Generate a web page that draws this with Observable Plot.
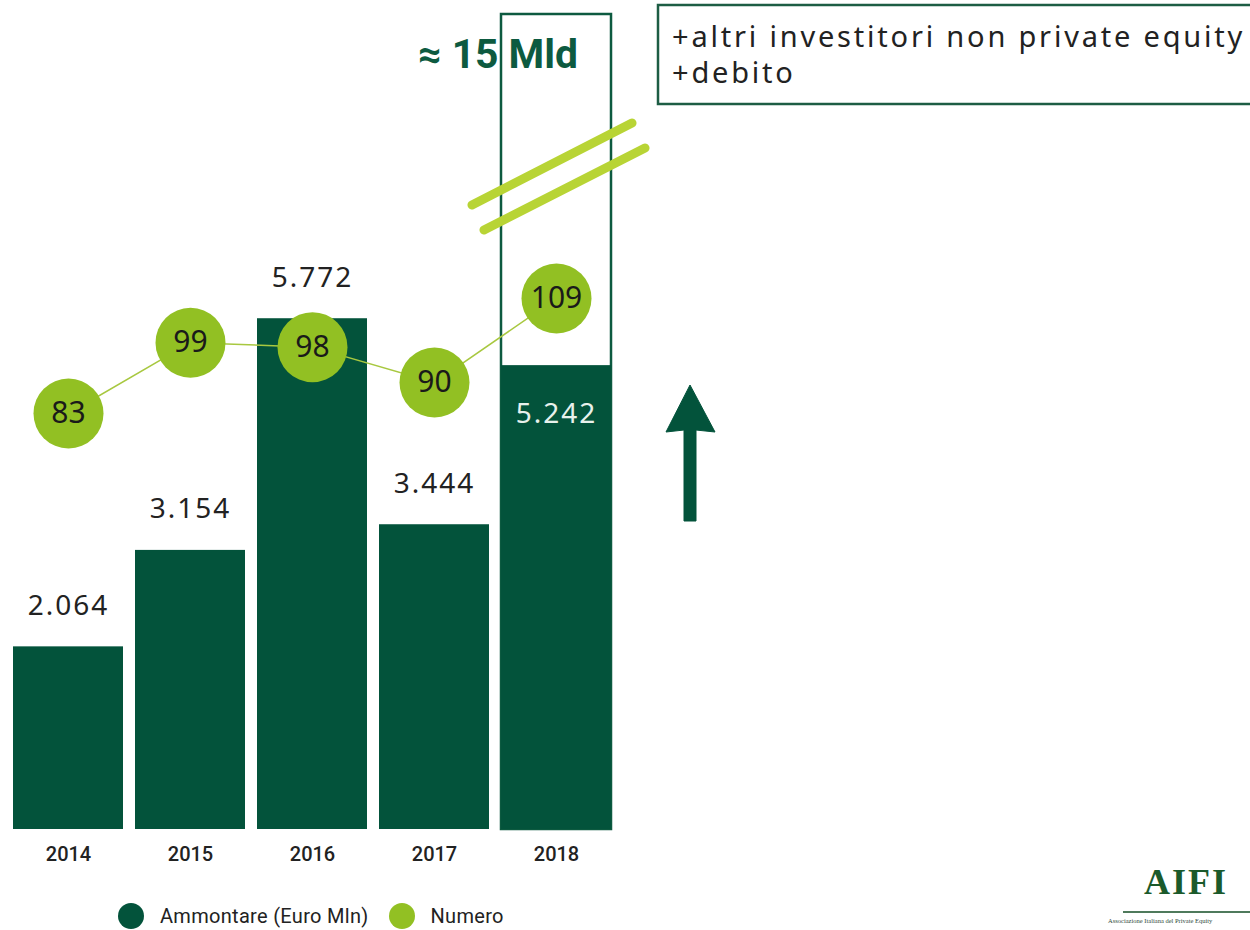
<!DOCTYPE html>
<html>
<head>
<meta charset="utf-8">
<script src="https://cdn.jsdelivr.net/npm/d3@7"></script>
<script src="https://cdn.jsdelivr.net/npm/@observablehq/plot@0.6"></script>
<style>
  html, body { margin:0; padding:0; background:#fff; }
  body { width:1250px; height:930px; overflow:hidden; position:relative; font-family: Roboto, "Noto Sans", sans-serif; }
  #chart { position:absolute; left:0; top:0; }
  #legend { position:absolute; left:118px; top:903px; height:26px; display:flex; align-items:center; font-family:Roboto, sans-serif; font-size:20px; letter-spacing:0.3px; color:#222; }
  #legend .sw { width:26px; height:26px; border-radius:50%; display:inline-block; }
  #legend .lab { margin-left:16px; margin-right:20px; }
  #logo { position:absolute; left:1100px; top:862px; width:160px; }
  #logo .big { position:absolute; left:0; width:172px; text-align:center; top:0; font-family:"Liberation Serif", serif; font-weight:700; font-size:36px; line-height:40px; letter-spacing:2px; color:#1b5a2b; }
  #logo .rule { position:absolute; left:23px; top:49px; width:140px; height:2px; background:#4f7a5c; }
  #logo .small { position:absolute; left:8px; top:55px; font-family:"Liberation Serif", serif; font-size:6.5px; white-space:nowrap; color:#2f4a3a; }
</style>
</head>
<body>
<div id="chart"></div>
<div id="legend"></div>
<div id="logo"><div class="big">AIFI</div><div class="rule"></div><div class="small">Associazione Italiana del Private Equity</div></div>
<script>
// ---- data ----
const years = ["2014", "2015", "2016", "2017", "2018"];
const ammontare = [2064, 3154, 5772, 3444, 5242];   // Euro Mln
const numero = [83, 99, 98, 90, 109];
const seriesNames = ["Ammontare (Euro Mln)", "Numero"];
const breakLabel = "≈ 15 Mld";
const noteLines = ["+altri investitori non private equity", "+debito"];
const breakTop = 9210; // top of broken-axis box for 2018 (≈ 15 Mld)

const colBar = "#03533b";
const colDot = "#92c023";
const colLine = "#a8c840";

const data = years.map((y, i) => ({year: y, amount: ammontare[i], n: numero[i]}));
// secondary axis for Numero mapped onto the same vertical scale
const numToY = n => 551 + 50 * n;

const itFmt = d3.formatLocale({decimal: ",", thousands: ".", grouping: [3], currency: ["€", ""]}).format(",");

const last = data.filter(d => d.year === "2018");
const others = data.filter(d => d.year !== "2018");

const plot = Plot.plot({
  width: 1250,
  height: 896,
  marginTop: 14,
  marginBottom: 67,
  marginLeft: 7,
  marginRight: 633,
  x: {domain: years, paddingInner: 0.1, paddingOuter: 0.05},
  y: {domain: [0, breakTop], axis: null},
  style: {fontFamily: "Roboto, 'Noto Sans', sans-serif", background: "#fff"},
  marks: [
    Plot.barY(last, {x: "year", y1: 0, y2: () => breakTop, fill: "none", stroke: "#0d5a40", strokeWidth: 2.5}),
    Plot.barY(data, {x: "year", y: "amount", fill: colBar}),
    Plot.text(others, {x: "year", y: "amount", text: d => itFmt(d.amount), dy: -41, fontSize: 28, fill: "#222", fontFamily: "'Noto Sans', sans-serif"}),
    Plot.text(last, {x: "year", y: "amount", text: d => itFmt(d.amount), dy: 48, fontSize: 28, fill: "#e8f1ec", fontFamily: "'Noto Sans', sans-serif"}),
    Plot.line(data, {x: "year", y: d => numToY(d.n), stroke: colLine, strokeWidth: 1.5}),
    Plot.dot(data, {x: "year", y: d => numToY(d.n), r: 35, fill: colDot}),
    Plot.text(data, {x: "year", y: d => numToY(d.n), text: d => String(d.n), fontSize: 30, fill: "#1a1a1a", fontFamily: "'Noto Sans', sans-serif"}),
    Plot.axisX({tickSize: 0, tickPadding: 17, fontSize: 20, fontWeight: 500, fill: "#222", label: null})
  ]
});

document.getElementById("chart").appendChild(plot);

// letter spacing on value labels
d3.select(plot).selectAll("text").filter(function() { return /\d\.\d/.test(this.textContent); }).style("letter-spacing", "2px");

// ---- annotations ----
const svg = d3.select(plot);
const ann = svg.append("g").attr("text-anchor", "start");

// broken-axis marks
[[472, 205, 632, 123], [484, 230, 645, 148]].forEach(([x1, y1, x2, y2]) => {
  ann.append("line").attr("x1", x1).attr("y1", y1).attr("x2", x2).attr("y2", y2)
    .attr("stroke", "#b8d435").attr("stroke-width", 9).attr("stroke-linecap", "round");
});

// ≈ 15 Mld
ann.append("text").attr("x", 418).attr("y", 57).attr("text-anchor", "start").attr("dominant-baseline", "middle")
  .attr("font-family", "Roboto, sans-serif").attr("font-weight", 700).attr("font-size", 40).attr("fill", "#0d5a40")
  .attr("textLength", 160).attr("lengthAdjust", "spacingAndGlyphs")
  .text(breakLabel);

// note box
ann.append("rect").attr("x", 658).attr("y", 5).attr("width", 610).attr("height", 99)
  .attr("fill", "none").attr("stroke", "#1d5d44").attr("stroke-width", 2.5);
noteLines.forEach((t, i) => {
  ann.append("text").attr("x", 672).attr("y", 39 + i * 36).attr("text-anchor", "start").attr("dominant-baseline", "middle")
    .attr("font-family", "'Noto Sans', sans-serif").attr("font-size", 29).attr("fill", "#222")
    .style("letter-spacing", "2.8px").text(t);
});

// arrow
ann.append("path")
  .attr("d", "M684,521 L684,430 L666,432 L690,385 L715,432 L696,430 L696,521 Z")
  .attr("fill", colBar).attr("stroke", colBar).attr("stroke-width", 1).attr("stroke-linejoin", "round");

// legend
const leg = d3.select("#legend");
[[seriesNames[0], colBar], [seriesNames[1], colDot]].forEach(([name, c]) => {
  leg.append("span").attr("class", "sw").style("background", c);
  leg.append("span").attr("class", "lab").text(name);
});
</script>
</body>
</html>
